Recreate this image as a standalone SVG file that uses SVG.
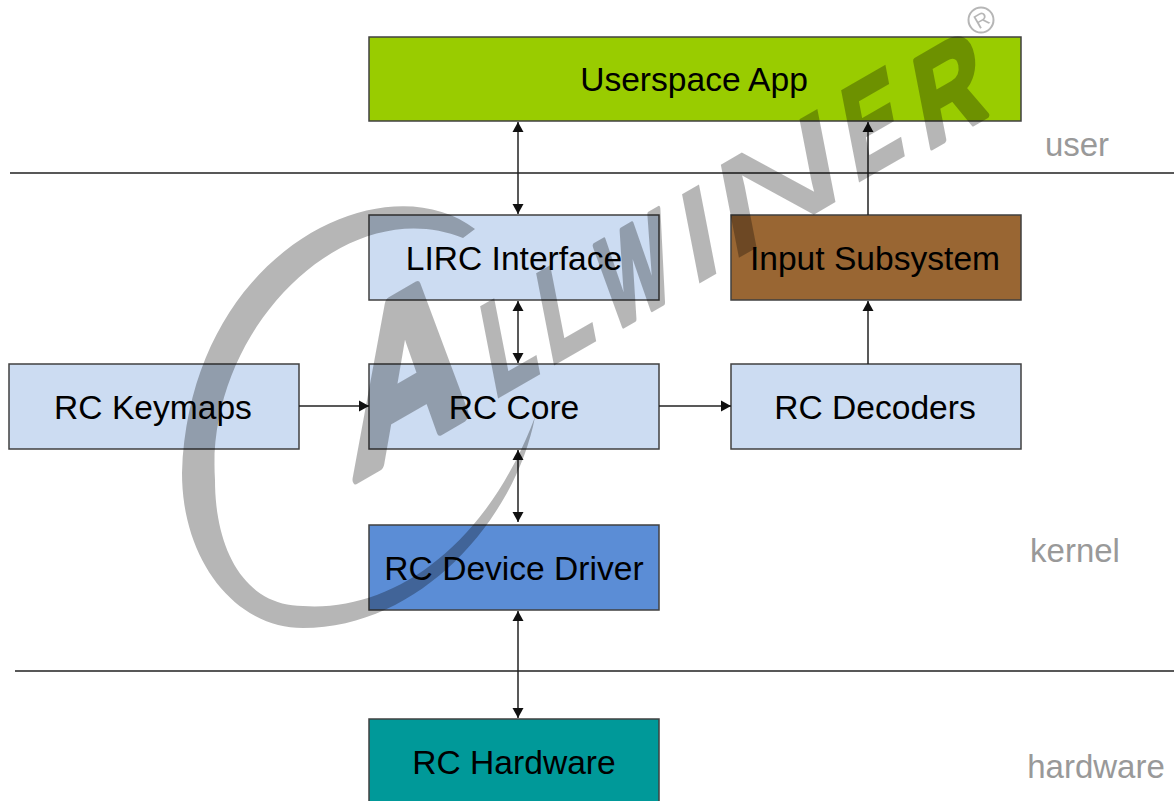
<svg xmlns="http://www.w3.org/2000/svg" width="1174" height="801" viewBox="0 0 1174 801">
<style>
.b{stroke:#404040;stroke-width:1.5}
.t{font-family:"Liberation Sans",Arial,sans-serif;font-size:33.6px;fill:#000;text-anchor:middle}
.l{font-family:"Liberation Sans",Arial,sans-serif;font-size:33px;fill:#999;text-anchor:middle}
.c{stroke:#222;stroke-width:1.5;fill:none}
.d{marker-start:url(#as);marker-end:url(#ae)}
.e{marker-end:url(#ae)}
.w{font-family:"Liberation Sans",Arial,sans-serif;font-weight:bold;fill:#000;stroke:#000;stroke-width:5;stroke-linejoin:miter}
</style>
<defs>
<marker id="ae" markerUnits="userSpaceOnUse" markerWidth="12" markerHeight="12" refX="10" refY="6" orient="auto"><path d="M0,0.5L10,6L0,11.500z" fill="#111"/></marker>
<marker id="as" markerUnits="userSpaceOnUse" markerWidth="12" markerHeight="12" refX="0" refY="6" orient="auto"><path d="M10,0.5L0,6L10,11.500z" fill="#111"/></marker>
</defs>
<g id="separators"><path class="c" d="M10,173H1174M15,671H1174"/></g>
<g id="userspace"><rect class="b" x="369" y="37" width="652" height="84" fill="#99cc00"/><text class="t" x="694" y="91">Userspace App</text></g>
<g id="lirc"><rect class="b" x="369" y="215" width="290" height="85" fill="#ccdcf2"/><text class="t" x="514" y="270">LIRC Interface</text></g>
<g id="input"><rect class="b" x="731" y="215" width="290" height="85" fill="#996633"/><text class="t" x="875" y="270">Input Subsystem</text></g>
<g id="keymaps"><rect class="b" x="9" y="364" width="290" height="85" fill="#ccdcf2"/><text class="t" x="153" y="419">RC Keymaps</text></g>
<g id="core"><rect class="b" x="369" y="364" width="290" height="85" fill="#ccdcf2"/><text class="t" x="514" y="419">RC Core</text></g>
<g id="decoders"><rect class="b" x="731" y="364" width="290" height="85" fill="#ccdcf2"/><text class="t" x="875" y="419">RC Decoders</text></g>
<g id="driver"><rect class="b" x="369" y="525" width="290" height="85" fill="#5b8dd6"/><text class="t" x="514" y="580">RC Device Driver</text></g>
<g id="hardware"><rect class="b" x="369" y="719" width="290" height="90" fill="#009999"/><text class="t" x="514" y="774">RC Hardware</text></g>
<g id="connectors">
<path class="c d" d="M518,122V214"/><path class="c d" d="M518,301V363"/><path class="c d" d="M518,450V522"/><path class="c d" d="M518,611V718"/>
<path class="c e" d="M299,406H369"/><path class="c e" d="M659,406H731"/><path class="c e" d="M868,364V301"/><path class="c e" d="M868,215V122"/>
</g>
<g id="labels"><text class="l" x="1077" y="156">user</text><text class="l" x="1075" y="562">kernel</text><text class="l" x="1096" y="778">hardware</text></g>
<g id="watermark" opacity=".29">
<path fill="#000" d="M475,229C385,160 190,250 182,473C182,560 235,628 303,628C420,628 515,520 535,417C485,550 390,612 303,606C245,606 215,550 215,480C205,330 345,190 463,238z"/>
<text class="w" font-size="196" style="stroke-width:11;stroke-linejoin:round" transform="translate(353,480) rotate(-30) skewX(-27) scale(.94,1)">A</text>
<text class="w" font-size="122" transform="translate(494,398) rotate(-30) skewX(-19) scale(.72,1)">L</text>
<text class="w" font-size="122" transform="translate(550,365) rotate(-30) skewX(-19) scale(.72,1)">L</text>
<text class="w" font-size="122" style="stroke-linejoin:round" transform="translate(611,333) rotate(-30) skewX(-19) scale(.65,1)">W</text>
<text class="w" font-size="122" style="stroke-width:2" transform="translate(693,286) rotate(-30) skewX(-19)">I</text>
<text class="w" font-size="126" style="font-weight:normal;stroke-width:3" transform="translate(727,263) rotate(-30) skewX(-19) scale(1.52,1)">N</text>
<text class="w" font-size="122" transform="translate(855,182) rotate(-30) skewX(-19) scale(.72,1)">E</text>
<text class="w" font-size="122" style="stroke-linejoin:round" transform="translate(926,151) rotate(-30) skewX(-19) scale(.83,1)">R</text>
<circle cx="981" cy="20" r="12.500" fill="none" stroke="#000" stroke-width="2"/>
<text font-family="Liberation Sans,sans-serif" font-size="20" fill="#000" text-anchor="middle" transform="translate(985,26) rotate(-30)">R</text>
</g>
</svg>
